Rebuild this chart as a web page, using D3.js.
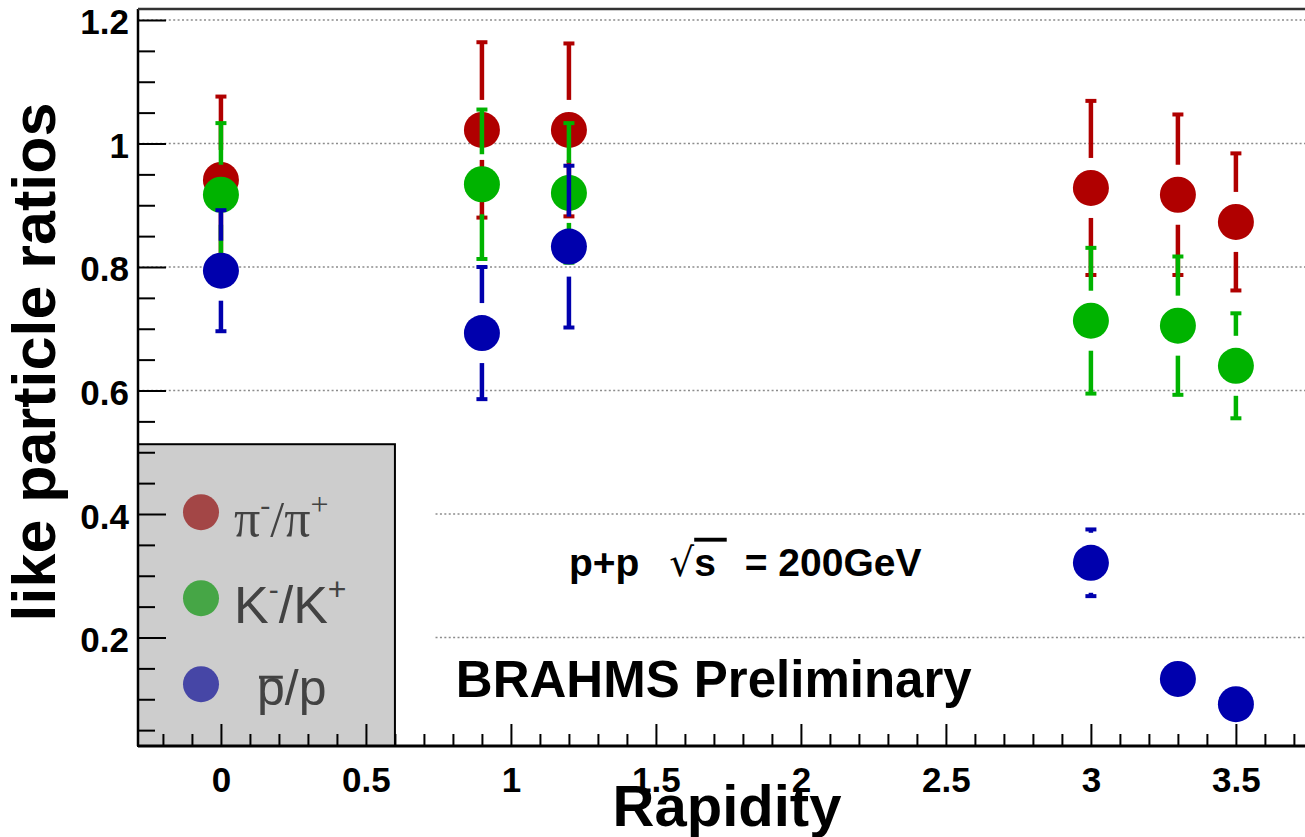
<!DOCTYPE html>
<html>
<head>
<meta charset="utf-8">
<script src="https://cdn.jsdelivr.net/npm/d3@7"></script>
<style>
body { margin: 0; background: #fff; }
text { font-family: "Liberation Sans", Arial, Helvetica, sans-serif; }
</style>
</head>
<body>
<svg id="chart"></svg>
<script>
const rapidity = [0, 0.9, 1.2, 3.0, 3.3, 3.5];
const piRatio = [0.941, 1.022, 1.022, 0.928, 0.917, 0.873];
const piErr   = [0.135, 0.142, 0.140, 0.141, 0.130, 0.111];
const kRatio  = [0.917, 0.934, 0.920, 0.713, 0.705, 0.640];
const kErr    = [0.116, 0.121, 0.113, 0.118, 0.112, 0.085];
const pRatio  = [0.794, 0.693, 0.833, 0.321, 0.133, 0.092];
const pErr    = [0.098, 0.107, 0.131, 0.054, 0.040, 0.035];

const xMajorTicks = [0, 0.5, 1, 1.5, 2, 2.5, 3, 3.5];
const yMajorTicks = [0.2, 0.4, 0.6, 0.8, 1, 1.2];
const xMinorTicks = d3.range(-2, 38).filter(i => i % 5 != 0).map(i => i / 10);
const yMinorTicks = d3.range(1, 24).filter(i => i % 4 != 0).map(i => i * 0.05);

const svgWidth = 1305, svgHeight = 837;
const chart = d3.select('#chart')
    .attr("width", svgWidth)
    .attr("height", svgHeight);

const xScale = d3.scaleLinear().domain([-0.286, 3.75]).range([138, 1308.4]);
const yScale = d3.scaleLinear().domain([0.0243, 1.2178]).range([746, 9]);

const x0 = xScale.range()[0], x1 = xScale.range()[1];
const yBottom = yScale.range()[0], yTop = yScale.range()[1];

const markerR = 18, gap = 30, capW = 11;
const lowGridStart = 0.74;   // the lower grid lines start right of the legend

const series = [
    {values: piRatio, errors: piErr, color: "#b00000", legendColor: "#a34646"},
    {values: kRatio,  errors: kErr,  color: "#00b300", legendColor: "#46a646"},
    {values: pRatio,  errors: pErr,  color: "#0000ad", legendColor: "#4646a6"}
];

// grid
chart.append("g").selectAll("line")
    .data(yMajorTicks)
    .enter().append("line")
    .attr("x1", d => d < 0.5 ? xScale(lowGridStart) : x0)
    .attr("x2", x1)
    .attr("y1", d => yScale(d))
    .attr("y2", d => yScale(d))
    .attr("stroke", "#8c8c8c")
    .attr("stroke-width", 1.5)
    .attr("stroke-dasharray", "2,2.4");

// legend box
const legendBox = {left: x0, right: xScale(0.6), top: yScale(0.513), bottom: yBottom};
chart.append("rect")
    .attr("x", legendBox.left)
    .attr("y", legendBox.top)
    .attr("width", legendBox.right - legendBox.left)
    .attr("height", legendBox.bottom - legendBox.top)
    .attr("fill", "#cdcdcd")
    .attr("stroke", "#000")
    .attr("stroke-width", 2);

const legendRows = chart.append("g");
series.forEach(function(s, i) {
    legendRows.append("circle")
        .attr("cx", legendBox.left + 63)
        .attr("cy", legendBox.top + 68 + i * 86)
        .attr("r", markerR)
        .attr("fill", s.legendColor);
});

function label(parts, x, y) {
    const t = legendRows.append("text")
        .attr("x", x).attr("y", y)
        .attr("fill", "#424242");
    parts.forEach(function(p) {
        const ts = t.append("tspan").text(p.t)
            .attr("font-size", p.size)
            .attr("dy", p.dy || 0);
        if (p.family) ts.style("font-family", p.family);
    });
    return t;
}
const serif = '"Liberation Serif", "Times New Roman", serif';
label([
    {t: "π", size: 52, family: serif},
    {t: "-", size: 30, dy: -21, family: serif},
    {t: "/", size: 50, dy: 21, family: serif},
    {t: "π", size: 52, family: serif},
    {t: "+", size: 32, dy: -21, family: serif}
], legendBox.left + 96, legendBox.top + 68 + 24);
label([
    {t: "K", size: 52},
    {t: "-", size: 30, dy: -23},
    {t: "/K", size: 52, dy: 23},
    {t: "+", size: 32, dy: -23}
], legendBox.left + 96, legendBox.top + 68 + 86 + 25);
const pbar = label([
    {t: "p", size: 50},
    {t: "/p", size: 50}
], legendBox.left + 119, legendBox.top + 68 + 172 + 21);
// bar over the first p
const pWidth = pbar.select("tspan").node().getComputedTextLength();
legendRows.append("line")
    .attr("x1", legendBox.left + 121).attr("x2", legendBox.left + 117 + pWidth)
    .attr("y1", legendBox.top + 68 + 172 - 7).attr("y2", legendBox.top + 68 + 172 - 7)
    .attr("stroke", "#424242").attr("stroke-width", 3);

// axes
function styleAxis(g) {
    g.select(".domain").remove();
    g.selectAll("line").attr("stroke", "#000").attr("stroke-width", 2);
    g.selectAll("text")
        .attr("font-size", 35)
        .attr("font-weight", "bold")
        .attr("fill", "#000")
        .style("font-family", '"Liberation Sans", Arial, sans-serif');
}

chart.append("g")
    .attr("transform", "translate(0," + yBottom + ")")
    .call(d3.axisBottom(xScale).tickValues(xMinorTicks).tickSize(-12).tickFormat(""))
    .call(styleAxis);
chart.append("g")
    .attr("transform", "translate(0," + yBottom + ")")
    .call(d3.axisBottom(xScale).tickValues(xMajorTicks).tickSize(-22).tickPadding(21).tickFormat(d3.format("~g")))
    .call(styleAxis);

chart.append("g")
    .attr("transform", "translate(" + x0 + ",0)")
    .call(d3.axisLeft(yScale).tickValues(yMinorTicks).tickSize(-17).tickFormat(""))
    .call(styleAxis);
chart.append("g")
    .attr("transform", "translate(" + x0 + ",0)")
    .call(d3.axisLeft(yScale).tickValues(yMajorTicks).tickSize(-28).tickPadding(9).tickFormat(d3.format("~g")))
    .call(styleAxis)
    .selectAll("text").attr("dy", "0.4em");

// frame
chart.append("line").attr("x1", x0).attr("x2", x0).attr("y1", yTop).attr("y2", yBottom)
    .attr("stroke", "#000").attr("stroke-width", 2.5);
chart.append("line").attr("x1", x0).attr("x2", x1).attr("y1", yBottom).attr("y2", yBottom)
    .attr("stroke", "#000").attr("stroke-width", 3);
chart.append("line").attr("x1", x0).attr("x2", x1).attr("y1", yTop).attr("y2", yTop)
    .attr("stroke", "#333").attr("stroke-width", 2.5);

// data: error bars leave a gap around their own marker
series.forEach(function(s) {
    const pts = rapidity.map((r, i) => ({r: r, v: s.values[i], e: s.errors[i]}));
    const g = chart.append("g");
    pts.forEach(function(d) {
        const cx = xScale(d.r), cy = yScale(d.v);
        const yHi = yScale(d.v + d.e), yLo = yScale(d.v - d.e);
        if (cy - gap > yHi) {
            g.append("line").attr("x1", cx).attr("x2", cx).attr("y1", cy - gap).attr("y2", yHi)
                .attr("stroke", s.color).attr("stroke-width", 4.5);
            g.append("line").attr("x1", cx - capW / 2).attr("x2", cx + capW / 2).attr("y1", yHi).attr("y2", yHi)
                .attr("stroke", s.color).attr("stroke-width", 4);
        }
        if (cy + gap < yLo) {
            g.append("line").attr("x1", cx).attr("x2", cx).attr("y1", cy + gap).attr("y2", yLo)
                .attr("stroke", s.color).attr("stroke-width", 4.5);
            g.append("line").attr("x1", cx - capW / 2).attr("x2", cx + capW / 2).attr("y1", yLo).attr("y2", yLo)
                .attr("stroke", s.color).attr("stroke-width", 4);
        }
    });
    g.selectAll(".dot")
        .data(pts)
        .enter().append("circle")
        .attr("class", "dot")
        .attr("cx", d => xScale(d.r))
        .attr("cy", d => yScale(d.v))
        .attr("r", markerR)
        .attr("fill", s.color);
});

// annotations
const note = chart.append("text")
    .attr("x", xScale(1.2))
    .attr("y", yScale(0.30))
    .attr("font-size", 39)
    .attr("font-weight", "bold");
note.append("tspan").text("p+p");
note.append("tspan").attr("dx", 30).attr("font-weight", "normal")
    .style("font-family", '"DejaVu Sans", sans-serif').text("√");
note.append("tspan").style("text-decoration", "overline").text("s ");
note.append("tspan").attr("dx", 18).text("= 200GeV");

chart.append("text")
    .attr("x", xScale(0.81))
    .attr("y", yScale(0.104))
    .attr("font-size", 51)
    .attr("font-weight", "bold")
    .text("BRAHMS Preliminary");

// axis titles
chart.append("text")
    .attr("transform", "translate(727,826)")
    .attr("text-anchor", "middle")
    .attr("font-size", 58)
    .attr("font-weight", "bold")
    .text("Rapidity");

chart.append("text")
    .attr("transform", "translate(55,362) rotate(-90)")
    .attr("text-anchor", "middle")
    .attr("font-size", 61)
    .attr("font-weight", "bold")
    .text("like particle ratios");
</script>
</body>
</html>
